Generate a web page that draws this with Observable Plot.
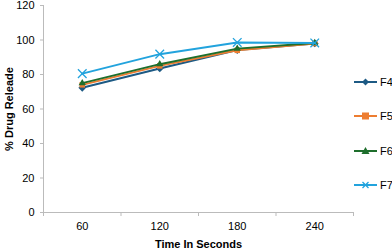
<!DOCTYPE html>
<html><head><meta charset="utf-8">
<script src="https://cdn.jsdelivr.net/npm/d3@7"></script>
<script src="https://cdn.jsdelivr.net/npm/@observablehq/plot@0.6"></script>
<style>
body{margin:0;background:#fff;font-family:"Liberation Sans",Arial,sans-serif;}
#wrap{position:relative;width:392px;height:249px;}
g[aria-label="x-axis label"] text, g[aria-label="y-axis label"] text{font-weight:bold;}
#legend{position:absolute;left:354px;top:0;font:11px "Liberation Sans",Arial,sans-serif;color:#000;}
.item{position:absolute;left:0;display:flex;align-items:center;white-space:nowrap;}
</style></head>
<body><div id="wrap"><div id="legend"></div></div>
<script>
const times = [60, 120, 180, 240];
const series = ["F4", "F5", "F6", "F7"];
const F4 = [72.3, 83.5, 94.2, 98.0];
const F5 = [74.0, 85.0, 94.0, 98.0];
const F6 = [75.0, 86.0, 95.0, 98.2];
const F7 = [80.5, 91.8, 98.6, 98.3];
const yTicks = [0, 20, 40, 60, 80, 100, 120];
const boundaries = [30, 90, 150, 210, 270];

const colors = {F4:"#1d5a84", F5:"#ed7d31", F6:"#1e6e2c", F7:"#22a3dd"};
const symbols = {F4:"diamond2", F5:"square2", F6:"triangle2", F7:"times"};
const vals = {F4, F5, F6, F7};
const data = series.flatMap(s => times.map((t,i) => ({s, t, v: vals[s][i]})));

const marks = [
  Plot.axisY({ticks: yTicks, tickSize: 3, tickPadding: 6, stroke:"#bbb", fontSize: 11,
    label: "% Drug Releade", labelAnchor: "center", labelArrow: "none", labelOffset: 38}),
  Plot.axisX({ticks: boundaries, tickSize: 4, tickFormat: () => "", stroke:"#bbb", label: null}),
  Plot.axisX({ticks: times, tickSize: 0, tickPadding: 10, fontSize: 11,
    label: "Time In Seconds", labelAnchor: "center", labelArrow: "none", labelOffset: 35}),
  Plot.ruleX([boundaries[0]], {stroke: "#bbb"}),
  Plot.ruleY([0], {stroke: "#bbb"})
];
for (const s of series) {
  const d = data.filter(r => r.s === s);
  marks.push(Plot.line(d, {x:"t", y:"v", stroke: colors[s], strokeWidth: 2}));
  if (symbols[s] === "times")
    marks.push(Plot.dot(d, {x:"t", y:"v", symbol:"times", stroke: colors[s], r: 4, strokeWidth: 1.3}));
  else
    marks.push(Plot.dot(d, {x:"t", y:"v", symbol: symbols[s], fill: colors[s], r: 3.5}));
}

const chart = Plot.plot({
  width: 392, height: 249,
  marginLeft: 43, marginRight: 39, marginTop: 5, marginBottom: 37,
  style: {fontFamily: '"Liberation Sans", Arial, sans-serif', fontSize: "11px", color:"#000"},
  x: {type: "linear", domain: [boundaries[0], boundaries[boundaries.length-1]]},
  y: {domain: [0, 120]},
  marks
});
document.getElementById("wrap").prepend(chart);

// legend
const legendTops = [82, 116, 151, 185];
const leg = document.getElementById("legend");
series.forEach((s, i) => {
  const div = document.createElement("div");
  div.className = "item";
  div.style.top = (legendTops[i] - 7) + "px";
  const c = colors[s];
  let marker;
  if (s === "F4") marker = `<path d="M11.5,3.5 L15,7 L11.5,10.5 L8,7Z" fill="${c}"/>`;
  else if (s === "F5") marker = `<rect x="8" y="3.5" width="7" height="7" fill="${c}"/>`;
  else if (s === "F6") marker = `<path d="M11.5,3 L15.5,10 L7.5,10Z" fill="${c}"/>`;
  else marker = `<path d="M8.5,4 L14.5,10 M14.5,4 L8.5,10" stroke="${c}" stroke-width="1.3"/>`;
  div.innerHTML = `<svg width="24" height="14"><line x1="0" y1="7" x2="23" y2="7" stroke="${c}" stroke-width="2"/>${marker}</svg><span style="margin-left:2px">${s}</span>`;
  leg.appendChild(div);
});
</script></body></html>
